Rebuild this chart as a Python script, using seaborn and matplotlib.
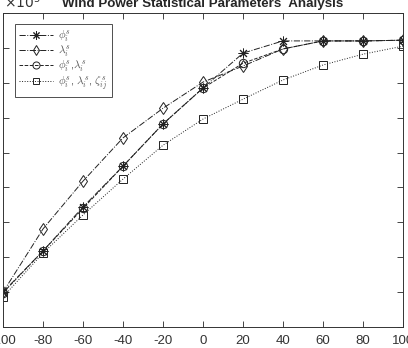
import pandas as pd
import matplotlib
matplotlib.use("Agg")
import matplotlib.pyplot as plt
import seaborn as sns

# values, in units of 1e5
x_vals = [-100, -80, -60, -40, -20, 0, 20, 40, 60, 80, 100]
phi = [1.00, 2.18, 3.44, 4.61, 5.82, 6.85, 7.85, 8.20, 8.20, 8.20, 8.22]
lam = [1.00, 2.81, 4.18, 5.42, 6.27, 7.02, 7.48, 7.97, 8.20, 8.20, 8.22]
phi_lam = [0.98, 2.18, 3.40, 4.61, 5.82, 6.85, 7.56, 7.97, 8.20, 8.20, 8.22]
phi_lam_zeta = [0.86, 2.12, 3.21, 4.24, 5.21, 5.96, 6.53, 7.08, 7.51, 7.82, 8.05]

labels = [r'$\phi_i^s$', r'$\lambda_i^s$', r'$\phi_i^s$,$\lambda_i^s$',
          r'$\phi_i^s$, $\lambda_i^s$, $\zeta_{ij}^s$']
styles = [('-.', (8, 2, 0), 7), ('-.', 'd', 6), ('--', 'o', 6), (':', 's', 5.5)]

sns.set_style('ticks')
plt.rcParams['font.family'] = ['Liberation Sans', 'DejaVu Sans']
plt.rcParams['mathtext.fontset'] = 'cm'
plt.rcParams['axes.unicode_minus'] = False

fig = plt.figure(figsize=(4.08, 3.48), dpi=100)
ax = fig.add_axes([3 / 408, 1 - 327 / 348, 400 / 408, 314 / 348])

for ys, lab, (ls, mk, ms) in zip([phi, lam, phi_lam, phi_lam_zeta], labels, styles):
    df = pd.DataFrame({'x': x_vals, 'y': ys})
    sns.lineplot(data=df, x='x', y='y', ax=ax, color='#222222', linewidth=0.7,
                 linestyle=ls, marker=mk, markersize=ms, markerfacecolor='none',
                 markeredgecolor='#222222', markeredgewidth=0.7, label=lab)

ax.set_xlim(-100, 100)
ax.set_ylim(0, 9)
ax.set_xticks(range(-100, 101, 20))
ax.set_yticks(range(0, 10))
ax.set_xlabel('')
ax.set_ylabel('')
ax.tick_params(direction='in', length=4, width=0.6, top=True, right=True,
               labelleft=False, labelsize=9.5, labelcolor='#333333', pad=6)
for s in ax.spines.values():
    s.set_linewidth(0.7)
    s.set_color('#333333')

leg = ax.legend(loc='upper left', bbox_to_anchor=(0.03, 0.965), fancybox=False,
                edgecolor='#222222', fontsize=8, handlelength=3.0, markerscale=0.85,
                borderaxespad=0, labelspacing=0.0, borderpad=0.4, handletextpad=0.5)
leg.get_frame().set_linewidth(0.7)
for t in leg.get_texts():
    t.set_color('#555555')

fig.text(0.497, 1 - 7 / 348, 'Wind Power Statistical Parameters  Analysis',
         ha='center', va='baseline', fontsize=9.6, fontweight='bold')
fig.text(4 / 408, 1 - 8 / 348, r'$\times10^5$', ha='left', va='baseline',
         fontsize=10, color='#333333', math_fontfamily='dejavusans')

fig.savefig('out.png', dpi=100)
